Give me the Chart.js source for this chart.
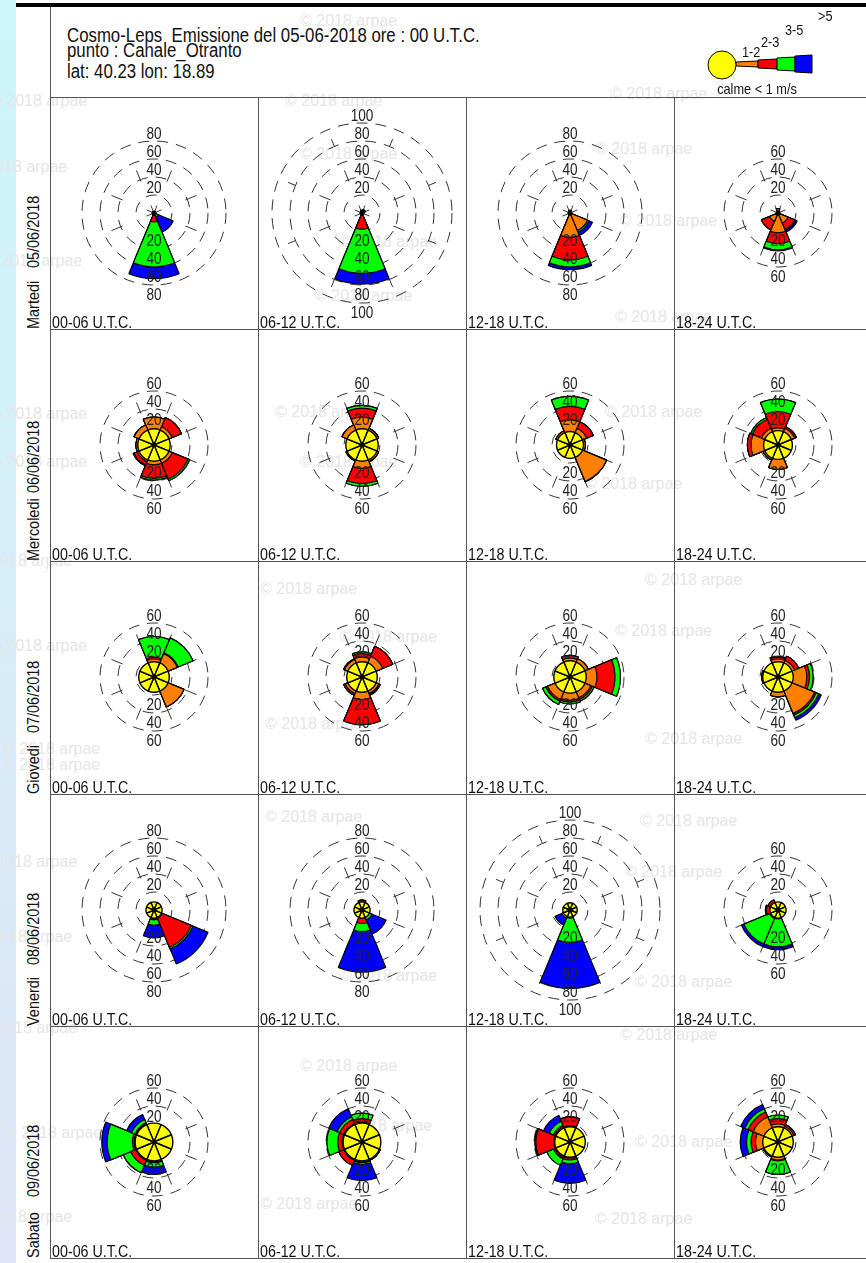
<!DOCTYPE html>
<html lang="it">
<head>
<meta charset="UTF-8">
<title>Cosmo-Leps Canale_Otranto</title>
<script src="https://cdn.jsdelivr.net/npm/chart.js@4.4.0/dist/chart.umd.min.js"></script>
<style>
  body { margin: 0; width: 866px; height: 1263px; overflow: hidden;
         background: linear-gradient(#cdf5fb, #dfe5f8); }
  #sheet { position: absolute; left: 0; top: 0; width: 866px; height: 1263px; overflow: hidden;
           font-family: "Liberation Sans", sans-serif; color: #111; }
  #paper { position: absolute; left: 16px; top: 0; width: 850px; height: 1263px; background: #fff; }
  .wm { position: absolute; font: 16px "Liberation Sans", sans-serif; color: #e6e6e6; white-space: nowrap; }
  .ln { position: absolute; background: #555; }
  /* Arial Narrow look: Liberation Sans squeezed */
  .txt { position: absolute; white-space: pre; line-height: 1;
         transform-origin: 0 0; transform: scaleX(0.84); }
  .rot { position: absolute; white-space: pre; line-height: 1; font-size: 17px;
         transform-origin: 0 0; transform: rotate(-90deg) scaleX(0.85); }
  .cell { position: absolute; width: 208px; height: 232px; }
</style>
</head>
<body>
<div id="sheet">
  <div id="paper"></div>
  <div id="marks"></div>
  <div id="grid"></div>
  <div id="cells"></div>
  <canvas id="legend" width="866" height="100" style="position:absolute;left:0;top:0"></canvas>
</div>

<script>
// ---- data ----
const directions = ['N', 'NE', 'E', 'SE', 'S', 'SW', 'W', 'NW'];
const days = ['Martedi', 'Mercoledi', 'Giovedi', 'Venerdi', 'Sabato'];
const dates = ['05/06/2018', '06/06/2018', '07/06/2018', '08/06/2018', '09/06/2018'];
const slots = ['00-06 U.T.C.', '06-12 U.T.C.', '12-18 U.T.C.', '18-24 U.T.C.'];
const classes = ['1-2', '2-3', '3-5', '>5'];

// outer ring of each rose (rows = days, cols = slots)
const ringMax = [
  [80, 100, 80, 60],
  [60, 60, 60, 60],
  [60, 60, 60, 60],
  [80, 80, 100, 60],
  [60, 60, 60, 60]
];

// calme < 1 m/s
const calm = [
  [2, 2, 2, 2],
  [18, 18, 15, 16],
  [17, 17, 18, 17],
  [9, 9, 8, 9],
  [21, 21, 17, 17]
];

// per class, per rose, 8 directions N..NW
const speed12 = [
  [[0,0,0,0,2,0,0,0], [3,0,0,0,2,0,0,0], [0,0,0,21,27,0,0,0], [5,0,0,12,22,10,0,0]],
  [[31,22,0,22,22,20,20,24], [31,20,0,20,26,19,0,24], [28,20,17,44,0,0,0,17], [19,20,0,0,27,18,30,20]],
  [[20,28,0,36,0,0,0,0], [22,25,0,20,25,20,0,21], [21,22,30,25,26,27,0,0], [20,20,32,44,22,0,18,0]],
  [[0,0,0,10,10,0,0,0], [0,0,0,0,9,0,0,0], [0,0,0,0,8,0,0,0], [0,0,0,0,9,9,9,9]],
  [[0,0,0,0,22,22,22,22], [22,0,0,22,22,22,22,22], [18,0,0,0,18,18,18,18], [20,19,0,0,20,18,25,30]]
];
const speed23 = [
  [[0,0,0,0,8,0,0,0], [0,0,0,0,16,0,0,0], [3,0,0,0,25,0,0,0], [0,0,0,8,12,10,0,0]],
  [[0,11,0,19,15,4,0,0], [10,0,0,0,17,0,0,0], [15,8,0,0,0,0,0,0], [18,2,0,0,0,0,4,11]],
  [[2,1,0,0,0,0,0,0], [4,12,0,1,28,2,0,1], [3,0,20,2,2,2,0,0], [2,5,3,2,0,0,0,0]],
  [[0,0,0,35,1,0,0,0], [11,0,0,0,6,0,0,0], [0,0,0,0,1,0,0,0], [0,0,0,0,1,1,4,3]],
  [[0,0,0,0,1,6,2,1], [4,0,0,0,1,6,5,5], [10,0,0,0,2,2,20,2], [6,2,0,0,1,0,5,6]]
];
const speed35 = [
  [[0,0,0,5,50,0,0,0], [0,4,0,0,49,0,0,0], [0,0,0,2,8,0,0,0], [0,0,0,1,7,0,0,0]],
  [[0,0,0,2,2,1,0,0], [3,0,0,0,3,0,0,0], [11,0,0,0,0,0,0,0], [14,0,0,0,0,0,0,2]],
  [[23,18,0,0,0,0,0,0], [2,0,0,1,0,0,0,0], [0,0,6,2,2,4,0,0], [1,0,4,3,0,0,0,0]],
  [[0,0,0,2,6,0,0,0], [0,0,0,12,9,0,0,0], [0,0,0,0,27,10,0,0], [0,0,0,0,31,31,1,0]],
  [[0,0,0,0,5,9,28,4], [6,0,0,0,2,0,12,3], [0,0,0,0,4,8,1,5], [4,0,0,0,15,0,5,4]]
];
const speed5 = [
  [[0,0,0,18,13,0,0,0], [0,0,0,0,12,0,0,0], [0,0,0,4,3,0,0,0], [0,0,0,2,1,0,0,0]],
  [[0,0,0,0,0,0,0,0], [0,0,0,0,0,0,0,0], [0,0,0,0,0,0,0,0], [0,0,0,0,0,0,0,0]],
  [[0,0,0,0,0,0,0,0], [0,0,0,0,0,0,0,0], [0,0,0,0,0,0,0,0], [0,0,0,3,0,0,0,0]],
  [[0,0,0,18,14,0,0,0], [0,0,0,17,45,0,0,0], [0,0,0,0,51,8,0,0], [0,0,0,0,3,3,0,0]],
  [[0,0,0,0,8,0,6,6], [0,0,0,0,18,0,0,10], [0,0,0,0,22,0,0,7], [0,0,0,0,0,0,7,5]]
];

const colors = ['#ff8000', '#ff0000', '#00ff00', '#0000ff'];
const FONT = '"Liberation Sans", sans-serif';
const SQUEEZE = 0.85;

// layout of the sheet
const gridLeft = 50, gridTop = 97, cellW = 208, cellH = 232.2;
const pxPerUnit = 0.9;

// watermark spots (left, top)
const marks = [[300,12],[-10,92],[285,92],[610,85],[-30,158],[300,145],[595,140],[-15,252],[340,233],
  [620,212],[315,287],[615,308],[-10,405],[275,403],[605,403],[-10,453],[300,453],[585,475],[-25,552],
  [260,580],[645,571],[-10,637],[340,628],[615,622],[3,740],[3,756],[265,715],[645,730],[265,808],
  [640,812],[-20,853],[625,863],[-25,928],[340,967],[635,973],[-20,1019],[300,1057],[620,1026],
  [5,1124],[335,1117],[635,1133],[260,1195],[-25,1208],[595,1210]];

function add(parent, cls, css, text) {
  const d = document.createElement('div');
  d.className = cls;
  Object.assign(d.style, css);
  if (text !== undefined) d.textContent = text;
  document.getElementById(parent).appendChild(d);
  return d;
}

marks.forEach(m => add('marks', 'wm', {left: m[0] + 'px', top: m[1] + 'px'}, '\u00a9 2018 arpae'));

// frame lines
add('grid', 'ln', {left: '16px', top: '3px', width: '850px', height: '4px', background: '#000'});
add('grid', 'ln', {left: gridLeft + 'px', top: '7px', width: '1px', height: '1252px'});
for (let c = 1; c < 4; c++) {
  add('grid', 'ln', {left: (gridLeft + c * cellW) + 'px', top: gridTop + 'px', width: '1px', height: (5 * cellH) + 'px'});
}
for (let r = 0; r <= 5; r++) {
  add('grid', 'ln', {left: gridLeft + 'px', top: Math.round(gridTop + r * cellH) + 'px', width: '820px', height: '1px'});
}

// header
add('grid', 'txt', {left: '67px', top: '25px', fontSize: '20px'}, 'Cosmo-Leps  Emissione del 05-06-2018 ore : 00 U.T.C.');
add('grid', 'txt', {left: '67px', top: '40px', fontSize: '20px'}, 'punto : Canale_Otranto');
add('grid', 'txt', {left: '67px', top: '61px', fontSize: '20px'}, 'lat: 40.23 lon: 18.89');

// row labels: day name at the bottom of the row, date above it
days.forEach((d, r) => {
  const bottom = Math.round(gridTop + (r + 1) * cellH);
  const dayEl = add('grid', 'rot', {left: '25px', top: bottom + 'px'}, d);
  const len = dayEl.getBoundingClientRect().height;
  const gap = Math.max(61, Math.ceil(len) + 5);
  add('grid', 'rot', {left: '25px', top: (bottom - gap) + 'px'}, dates[r]);
});

// ring labels above and below the centre, from the radial scale
const ringLabels = {
  id: 'ringLabels',
  afterDatasetsDraw(chart) {
    const s = chart.scales.r, ctx = chart.ctx;
    ctx.save();
    ctx.font = '16px ' + FONT;
    ctx.fillStyle = '#222';
    ctx.textAlign = 'center';
    ctx.textBaseline = 'middle';
    s.ticks.forEach(t => {
      if (!t.value) return;
      const d = s.getDistanceFromCenterForValue(t.value);
      [s.yCenter - d - 6, s.yCenter + d + 11].forEach(y => {
        ctx.save();
        ctx.translate(s.xCenter, y);
        ctx.scale(SQUEEZE, 1);
        ctx.fillText(t.label, 0, 0);
        ctx.restore();
      });
    });
    ctx.restore();
  }
};

function cumulate(parts) {
  const out = [];
  let run = [0, 0, 0, 0, 0, 0, 0, 0];
  parts.forEach(p => {
    run = run.map((v, i) => v + p[i]);
    out.push(run);
  });
  return out;
}

for (let r = 0; r < 5; r++) {
  for (let c = 0; c < 4; c++) {
    const top = Math.round(gridTop + r * cellH);
    const left = gridLeft + c * cellW;
    const bottom = Math.round(gridTop + (r + 1) * cellH);
    const h = bottom - top;
    const box = add('cells', 'cell', {left: left + 'px', top: top + 'px', height: h + 'px'});
    const cv = document.createElement('canvas');
    cv.width = cellW; cv.height = h;
    box.appendChild(cv);
    add('cells', 'txt', {left: (left + 2) + 'px', top: (bottom - 15) + 'px', fontSize: '17px'}, slots[c]);

    const M = ringMax[r][c];
    const R = Math.round(M * pxPerUnit);
    const padX = (cellW - 2 * R) / 2, padY = (h - 2 * R) / 2;
    const stacks = cumulate([speed12[r][c], speed23[r][c], speed35[r][c], speed5[r][c]]);

    const datasets = [{
      label: 'calme < 1 m/s',
      data: directions.map(() => calm[r][c]),
      backgroundColor: '#ffff00', borderColor: '#000', borderWidth: 1.4, clip: false
    }];
    stacks.forEach((s, k) => datasets.push({
      label: classes[k], data: s,
      backgroundColor: colors[k], borderColor: '#000', borderWidth: 1.2, clip: false
    }));

    new Chart(cv, {
      type: 'polarArea',
      data: {labels: directions, datasets: datasets},
      options: {
        responsive: false,
        animation: false,
        events: [],
        layout: {padding: {left: padX, right: padX, top: padY, bottom: padY}},
        plugins: {legend: {display: false}, tooltip: {enabled: false}},
        scales: {
          r: {
            min: 0, max: M,
            startAngle: -22.5,
            ticks: {display: false, stepSize: 20},
            grid: {circular: true, color: '#333', lineWidth: 1},
            border: {dash: [11, 8]},
            angleLines: {display: true, color: '#333', lineWidth: 1, borderDash: [8, 26, 12, 26]},
            pointLabels: {display: false}
          }
        }
      },
      plugins: [ringLabels]
    });
  }
}

// legend top right
const lg = document.getElementById('legend').getContext('2d');
lg.lineWidth = 1;
lg.strokeStyle = '#000';
const steps = [[736, 758, 2, 3], [758, 777, 4, 5], [777, 795, 6, 7], [795, 812, 8, 9]];
steps.forEach((s, k) => {
  lg.beginPath();
  lg.moveTo(s[0], 64 - s[2]); lg.lineTo(s[1], 64 - s[3]);
  lg.lineTo(s[1], 64 + s[3]); lg.lineTo(s[0], 64 + s[2]);
  lg.closePath();
  lg.fillStyle = colors[k];
  lg.fill(); lg.stroke();
});
lg.beginPath();
lg.arc(722, 65, 14, 0, Math.PI * 2);
lg.fillStyle = '#ffff00';
lg.fill(); lg.stroke();
lg.fillStyle = '#111';
lg.font = '15px ' + FONT;
function narrowText(ctx, text, x, y, align) {
  ctx.save();
  ctx.textAlign = align || 'left';
  ctx.translate(x, y);
  ctx.scale(SQUEEZE, 1);
  ctx.fillText(text, 0, 0);
  ctx.restore();
}
narrowText(lg, classes[0], 742, 57);
narrowText(lg, classes[1], 761, 47);
narrowText(lg, classes[2], 785, 35);
narrowText(lg, classes[3], 818, 21);
narrowText(lg, 'calme < 1 m/s', 757, 94, 'center');
</script>
</body>
</html>
